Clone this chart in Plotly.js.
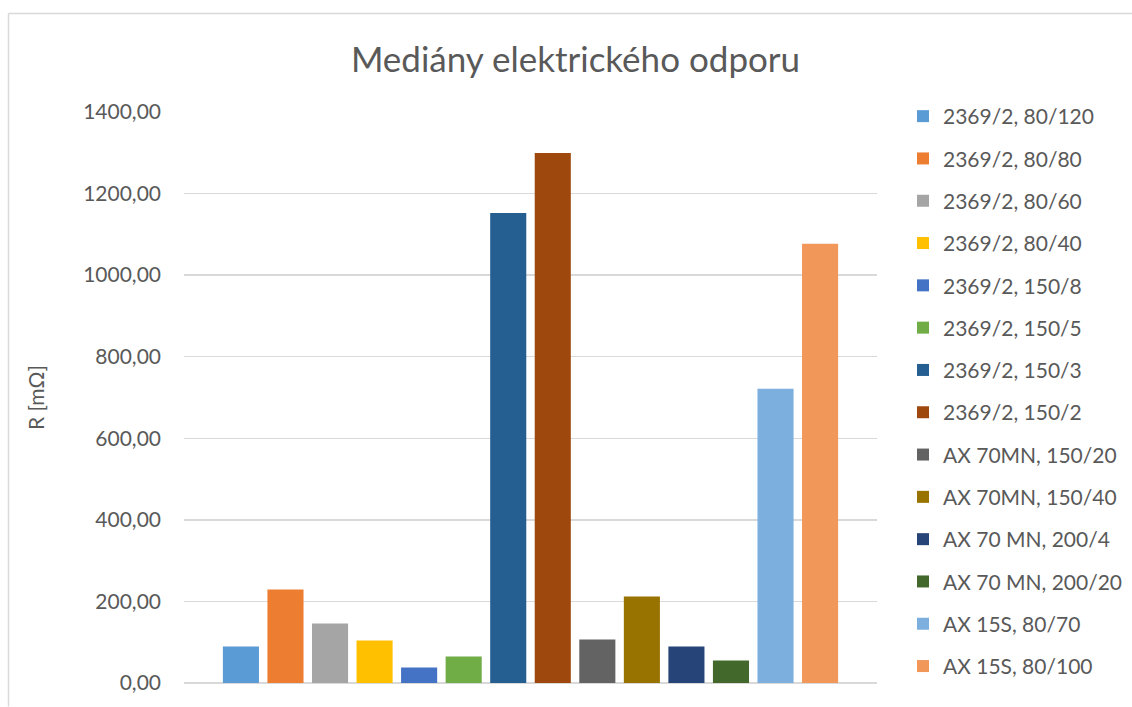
<!DOCTYPE html>
<html>
<head>
<meta charset="utf-8">
<script src="https://cdn.plot.ly/plotly-3.0.1.min.js"></script>
<style>
  html, body { margin: 0; padding: 0; background: #fff; }
  #chart { width: 1132px; height: 707px; }
</style>
</head>
<body>
<div id="chart"></div>
<script>
const seriesNames = [
  "2369/2, 80/120", "2369/2, 80/80", "2369/2, 80/60", "2369/2, 80/40",
  "2369/2, 150/8", "2369/2, 150/5", "2369/2, 150/3", "2369/2, 150/2",
  "AX 70MN, 150/20", "AX 70MN, 150/40", "AX 70 MN, 200/4", "AX 70 MN, 200/20",
  "AX 15S, 80/70", "AX 15S, 80/100"
];
const seriesValues = [89.4, 229.0, 145.8, 104.0, 38.0, 65.0, 1152.6, 1299.6, 106.6, 212.0, 89.4, 55.0, 721.5, 1076.7];
const seriesColors = [
  "#5B9BD5", "#ED7D31", "#A5A5A5", "#FFC000", "#4472C4", "#70AD47", "#255E91",
  "#9E480E", "#636363", "#997300", "#264478", "#43682B", "#7CAFDD", "#F1975A"
];
const category = [""];
const yTicks = [0, 200, 400, 600, 800, 1000, 1200, 1400];

const FONT = "Lato, 'Open Sans', 'DejaVu Sans', sans-serif";
const TEXT = "#595959";

const traces = seriesNames.map((n, i) => ({
  type: "bar",
  name: n,
  x: category,
  y: [seriesValues[i]],
  marker: { color: seriesColors[i] },
  legendgroup: "g" + i,
  hoverinfo: "name+y"
}));

// plot area in pixels: x 184..877, y 112..683.5
const L = 184, R = 877, T = 112, B = 683.5, W = 1132, H = 707;
const px2x = p => (p - L) / (R - L);
const px2y = p => (B - p) / (B - T);

const layout = {
  width: W, height: H,
  margin: { l: L, r: W - R, t: T, b: H - B, pad: 0 },
  paper_bgcolor: "#ffffff",
  plot_bgcolor: "#ffffff",
  separators: ", ",
  font: { family: FONT, color: TEXT, size: 21 },
  title: {
    text: "Mediány elektrického odporu",
    font: { family: FONT, size: 35, color: TEXT },
    x: 575.5 / W, xanchor: "center", xref: "container",
    y: 1 - 60 / H, yanchor: "middle", yref: "container"
  },
  barmode: "group",
  bargap: 0.10,
  bargroupgap: 0.19,
  xaxis: {
    showticklabels: false,
    showgrid: false,
    zeroline: false,
    showline: false,
    ticks: "",
    fixedrange: true
  },
  yaxis: {
    range: [0, 1400],
    tickvals: yTicks,
    tickformat: ".2f",
    ticks: "",
    ticklabelstandoff: 22,
    showgrid: true,
    gridcolor: "#d9d9d9",
    gridwidth: 1.3,
    zeroline: true,
    zerolinecolor: "#d9d9d9",
    zerolinewidth: 1.3,
    showline: false,
    tickfont: { family: FONT, size: 21, color: TEXT },
    title: { text: "R [mΩ]", font: { family: FONT, size: 21, color: TEXT }, standoff: 32 }
  },
  legend: {
    xref: "container", yref: "container",
    x: 903 / W, xanchor: "left",
    y: 1 - 96 / H, yanchor: "top",
    font: { family: FONT, size: 21, color: TEXT },
    tracegroupgap: 12,
    itemwidth: 30,
    maxheight: 690,
    bgcolor: "rgba(0,0,0,0)"
  },
  shapes: [
    { type: "line", xref: "paper", yref: "paper",
      x0: px2x(8.5), x1: px2x(8.5), y0: px2y(707), y1: px2y(13.5),
      line: { color: "#d9d9d9", width: 1.5 } },
    { type: "line", xref: "paper", yref: "paper",
      x0: px2x(8.5), x1: px2x(1132), y0: px2y(13.5), y1: px2y(13.5),
      line: { color: "#d9d9d9", width: 1.5 } }
  ],
  showlegend: true
};

Plotly.newPlot("chart", traces, layout, { displayModeBar: false, staticPlot: true });
</script>
</body>
</html>
